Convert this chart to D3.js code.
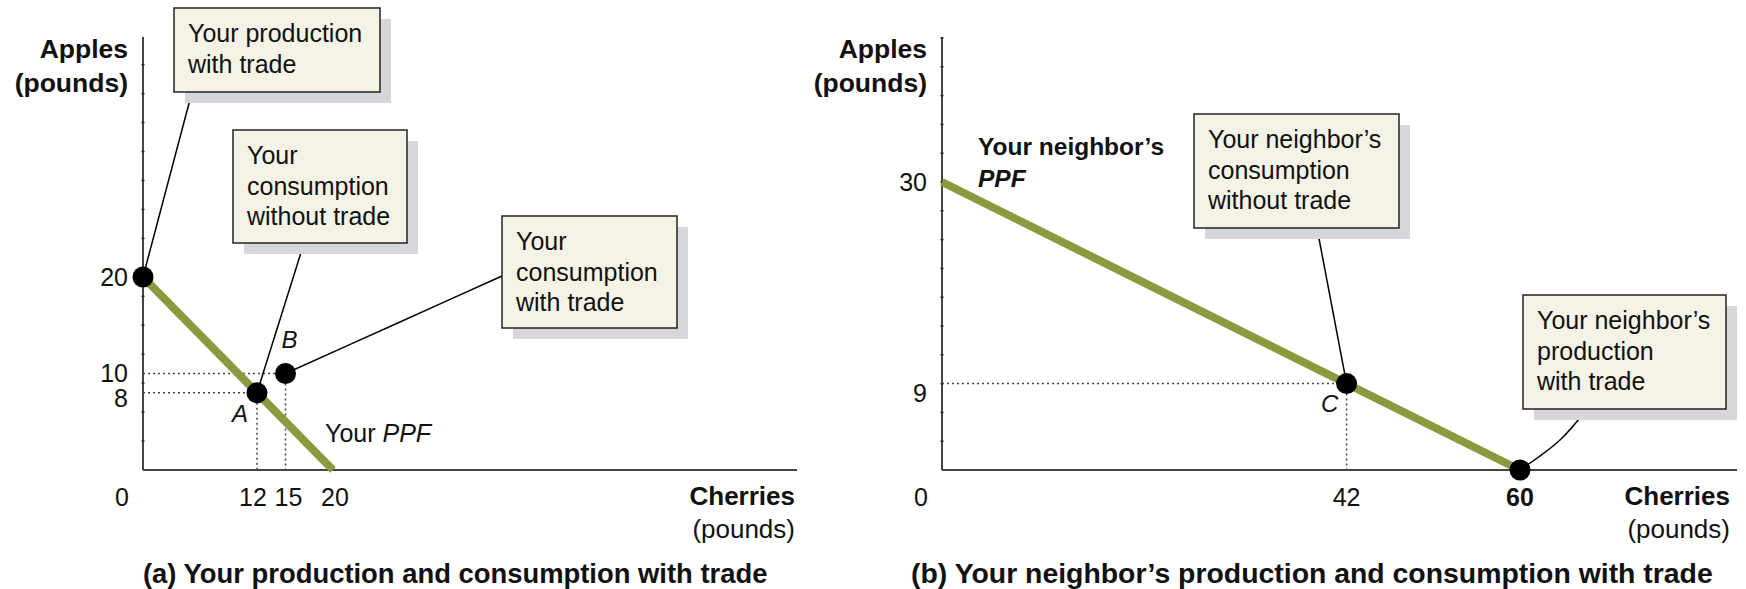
<!DOCTYPE html>
<html>
<head>
<meta charset="utf-8">
<script src="https://cdn.jsdelivr.net/npm/d3@7"></script>
<style>
  body { margin: 0; background: #fff; }
  svg text { font-family: "Liberation Sans", Arial, Helvetica, sans-serif; fill: #111; }
</style>
</head>
<body>
<div id="chart"></div>
<script>
// ---- data ----
var yourPPF = [{cherries: 0, apples: 20}, {cherries: 20, apples: 0}];
var yourPoints = [
    {label: "",  cherries: 0,  apples: 20, guides: false},
    {label: "A", cherries: 12, apples: 8,  guides: true},
    {label: "B", cherries: 15, apples: 10, guides: true}
];
var yourTicksX = [12, 15, 20];
var yourTicksY = [8, 10, 20];

var neighborPPF = [{cherries: 0, apples: 30}, {cherries: 60, apples: 0}];
var neighborPoints = [
    {label: "C", cherries: 42, apples: 9, guides: true},
    {label: "",  cherries: 60, apples: 0, guides: false}
];
var neighborTicksX = [42, 60];
var neighborTicksY = [9, 30];

var yourCallouts = [
    {lines: ["Your production", "with trade"], point: 0},
    {lines: ["Your", "consumption", "without trade"], point: 1},
    {lines: ["Your", "consumption", "with trade"], point: 2}
];
var neighborCallouts = [
    {lines: ["Your neighbor\u2019s", "consumption", "without trade"], point: 0},
    {lines: ["Your neighbor\u2019s", "production", "with trade"], point: 1}
];

// ---- layout ----
var width = 1746, height = 589;
var green = "#8a9a3e";
var cream = "#f5f3e6";
var shadow = "#d6d7db";

var svg = d3.select("#chart").append("svg")
    .attr("width", width)
    .attr("height", height);

function draw_panel(opts) {
    var g = svg.append("g");

    var x = d3.scaleLinear()
        .domain([0, (opts.right - opts.left) / opts.xUnit])
        .range([opts.left, opts.right]);
    var y = d3.scaleLinear()
        .domain([0, (opts.bottom - opts.top) / opts.yUnit])
        .range([opts.bottom, opts.top]);

    // axes
    g.append("line")
        .attr("x1", opts.left).attr("x2", opts.left)
        .attr("y1", opts.top).attr("y2", opts.bottom)
        .style("stroke", "#444").style("stroke-width", 2);
    g.append("line")
        .attr("x1", opts.left).attr("x2", opts.right)
        .attr("y1", opts.bottom).attr("y2", opts.bottom)
        .style("stroke", "#444").style("stroke-width", 2);

    // small marks along the vertical axis
    g.selectAll(".minor")
        .data(d3.range(3, y.domain()[1], 3))
        .enter().append("line")
        .attr("x1", opts.left - 1.5).attr("x2", opts.left + 1.5)
        .attr("y1", function(d) { return y(d); })
        .attr("y2", function(d) { return y(d); })
        .style("stroke", "#222").style("stroke-width", 1.5);

    // tick labels (small nudges where the original spreads crowded labels)
    g.selectAll(".ytick")
        .data(opts.ticksY)
        .enter().append("text")
        .attr("x", opts.left - 15)
        .attr("y", function(d) { return y(d) + (opts.yNudge[d] || 0); })
        .attr("dy", "0.36em")
        .attr("text-anchor", "end")
        .style("font-size", "25px")
        .text(function(d) { return d; });
    g.selectAll(".xtick")
        .data(opts.ticksX)
        .enter().append("text")
        .attr("x", function(d) { return x(d) + (opts.xNudge[d] || 0); })
        .attr("y", opts.bottom + 36)
        .attr("text-anchor", "middle")
        .style("font-size", "25px")
        .style("font-weight", function(d) { return opts.boldTicks.indexOf(d) >= 0 ? "bold" : "normal"; })
        .text(function(d) { return d; });
    g.append("text")
        .attr("x", opts.left - 21)
        .attr("y", opts.bottom + 36)
        .attr("text-anchor", "middle")
        .style("font-size", "25px")
        .text("0");

    // dotted guides
    opts.points.filter(function(d) { return d.guides; }).forEach(function(d) {
        g.append("line")
            .attr("x1", opts.left).attr("x2", x(d.cherries))
            .attr("y1", y(d.apples)).attr("y2", y(d.apples))
            .style("stroke", "#444").style("stroke-width", 1.5)
            .style("stroke-dasharray", "2,3");
        g.append("line")
            .attr("x1", x(d.cherries)).attr("x2", x(d.cherries))
            .attr("y1", y(d.apples)).attr("y2", opts.bottom)
            .style("stroke", "#444").style("stroke-width", 1.5)
            .style("stroke-dasharray", "2,3");
    });

    // PPF
    var line = d3.line()
        .x(function(d) { return x(d.cherries); })
        .y(function(d) { return y(d.apples); });
    g.append("path")
        .datum(opts.ppf)
        .attr("d", line)
        .style("fill", "none")
        .style("stroke", green)
        .style("stroke-width", 8);

    // callouts: leader, shadow, box, text
    var leader = d3.line().curve(d3.curveCatmullRom);
    opts.callouts.forEach(function(c, i) {
        var b = opts.boxes[i];
        var p = opts.points[c.point];
        var pts = [b.from].concat(b.via || []).concat([[x(p.cherries), y(p.apples)]]);
        g.append("path")
            .attr("d", leader(pts))
            .style("fill", "none")
            .style("stroke", "#000")
            .style("stroke-width", 1.5);
        g.append("rect")
            .attr("x", b.x + 11).attr("y", b.y + 11)
            .attr("width", b.w).attr("height", b.h)
            .style("fill", shadow);
        g.append("rect")
            .attr("x", b.x).attr("y", b.y)
            .attr("width", b.w).attr("height", b.h)
            .style("fill", cream)
            .style("stroke", "#222")
            .style("stroke-width", 1.5);
        var t = g.append("text")
            .attr("x", b.x + 14)
            .attr("y", b.y + 34)
            .style("font-size", "25px");
        c.lines.forEach(function(s, j) {
            t.append("tspan")
                .attr("x", b.x + 14)
                .attr("dy", j === 0 ? 0 : 30.5)
                .text(s);
        });
    });

    // points
    g.selectAll(".pt")
        .data(opts.points)
        .enter().append("circle")
        .attr("cx", function(d) { return x(d.cherries); })
        .attr("cy", function(d) { return y(d.apples); })
        .attr("r", 10.5)
        .style("fill", "#000");

    // point letters
    g.selectAll(".ptlabel")
        .data(opts.points.filter(function(d) { return d.label; }))
        .enter().append("text")
        .attr("x", function(d) { return x(d.cherries) + opts.letterOffset[d.label][0]; })
        .attr("y", function(d) { return y(d.apples) + opts.letterOffset[d.label][1]; })
        .attr("text-anchor", "middle")
        .style("font-size", "24px")
        .style("font-style", "italic")
        .text(function(d) { return d.label; });

    // axis titles
    var ya = g.append("text")
        .attr("text-anchor", "end")
        .style("font-size", "26.5px")
        .style("font-weight", "bold");
    ya.append("tspan").attr("x", opts.left - 15).attr("y", 58).text("Apples");
    ya.append("tspan").attr("x", opts.left - 15).attr("y", 92).text("(pounds)");
    var xa = g.append("text")
        .attr("text-anchor", "end")
        .style("font-size", "26px");
    xa.append("tspan").attr("x", opts.xTitleRight).attr("y", 505)
        .style("font-weight", "bold").text("Cherries");
    xa.append("tspan").attr("x", opts.xTitleRight).attr("y", 538).text("(pounds)");

    // panel title
    g.append("text")
        .attr("x", opts.titleX)
        .attr("y", 583)
        .style("font-size", opts.titleSize)
        .style("font-weight", "bold")
        .text(opts.title);

    return {g: g, x: x, y: y};
}

// (a) your production and consumption
var pa = draw_panel({
    left: 143, right: 797, top: 37, bottom: 470,
    xUnit: 9.5, yUnit: 9.65,
    ppf: yourPPF, points: yourPoints,
    ticksX: yourTicksX, ticksY: yourTicksY,
    xNudge: {12: -4, 15: 3, 20: 2},
    yNudge: {8: 5, 10: -1},
    boldTicks: [],
    callouts: yourCallouts,
    boxes: [
        {x: 174, y: 8,   w: 206, h: 84,  from: [192, 92]},
        {x: 233, y: 130, w: 174, h: 113, from: [304, 243]},
        {x: 502, y: 216, w: 175, h: 112, from: [502, 276], via: [[400, 322]]}
    ],
    letterOffset: {A: [-17, 29], B: [4, -26]},
    xTitleRight: 795,
    titleX: 143,
    titleSize: "27.4px",
    title: "(a) Your production and consumption with trade"
});
var ppfA = pa.g.append("text")
    .attr("x", pa.x(20) - 8)
    .attr("y", 442)
    .style("font-size", "25px");
ppfA.append("tspan").text("Your ");
ppfA.append("tspan").style("font-style", "italic").text("PPF");

// (b) your neighbor's production and consumption
var pb = draw_panel({
    left: 942, right: 1737, top: 37, bottom: 470,
    xUnit: 578 / 60, yUnit: 9.6,
    ppf: neighborPPF, points: neighborPoints,
    ticksX: neighborTicksX, ticksY: neighborTicksY,
    xNudge: {},
    yNudge: {9: 9},
    boldTicks: [60],
    callouts: neighborCallouts,
    boxes: [
        {x: 1194, y: 114, w: 205, h: 114, from: [1317, 228]},
        {x: 1523, y: 295, w: 203, h: 114, from: [1587, 409], via: [[1560, 440]]}
    ],
    letterOffset: {C: [-17, 28]},
    xTitleRight: 1730,
    titleX: 911,
    titleSize: "28.4px",
    title: "(b) Your neighbor\u2019s production and consumption with trade"
});
var ppfB = pb.g.append("text")
    .style("font-size", "24.5px")
    .style("font-weight", "bold");
ppfB.append("tspan").attr("x", 978).attr("y", 155).text("Your neighbor\u2019s");
ppfB.append("tspan").attr("x", 978).attr("y", 187).style("font-style", "italic").text("PPF");
</script>
</body>
</html>
